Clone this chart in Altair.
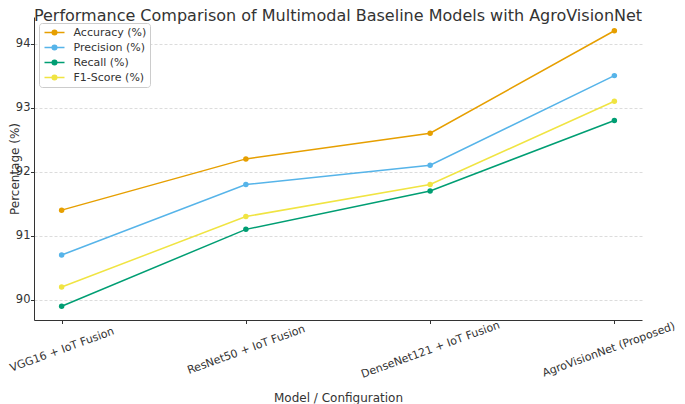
import altair as alt
import pandas as pd

models = ["VGG16 + IoT Fusion", "ResNet50 + IoT Fusion", "DenseNet121 + IoT Fusion", "AgroVisionNet (Proposed)"]
accuracy = [91.4, 92.2, 92.6, 94.2]
precision = [90.7, 91.8, 92.1, 93.5]
recall = [89.9, 91.1, 91.7, 92.8]
f1 = [90.2, 91.3, 91.8, 93.1]
metrics = ["Accuracy (%)", "Precision (%)", "Recall (%)", "F1-Score (%)"]
colors = ["#E69F00", "#56B4E9", "#009E73", "#F0E442"]
y_ticks = [90, 91, 92, 93, 94]

rows = []
for metric, vals in zip(metrics, [accuracy, precision, recall, f1]):
    for m, v in zip(models, vals):
        rows.append({"Model": m, "Metric": metric, "Value": v})
df = pd.DataFrame(rows)

FONT = "DejaVu Sans"
TXT = "#333333"

def ring(r):
    return f"M{-r},0A{r},{r} 0 1,1 {r},0A{r},{r} 0 1,1 {-r},0"

sym = "M-2,0L2,0" + ring(0.46) + ring(0.26) + ring(0.08)

x = alt.X(
    "Model:N", sort=models,
    scale=alt.Scale(type="point", padding=0.15),
    axis=alt.Axis(title="Model / Configuration", labelAngle=-20, labelAlign="center",
                  labelBaseline="middle", labelPadding=26, labelOverlap=False,
                  labelFontSize=11,
                  labelOffset={"condition": {"test": f"datum.value == '{models[-1]}'", "value": -6},
                               "value": 0},
                  labelBound=False, labelFlush=False, titleY=81, titleBaseline="alphabetic"),
)
y = alt.Y(
    "Value:Q",
    scale=alt.Scale(domain=[89.685, 94.415], nice=False, zero=False),
    axis=alt.Axis(title="Percentage (%)", values=y_ticks, labelPadding=0.5, labelFontSize=11.5,
                  titleX=-16, titleAlign="center", titleBaseline="alphabetic"),
)
color = alt.Color(
    "Metric:N", sort=metrics,
    scale=alt.Scale(domain=metrics, range=colors),
    legend=alt.Legend(title=None, orient="none", legendX=5, legendY=6,
                      symbolType=sym, symbolSize=100, symbolStrokeWidth=1.5,
                      symbolOffset=6, labelOffset=13, padding=3.5, rowPadding=3,
                      strokeColor="#cccccc", fillColor="white", cornerRadius=3,
                      labelFontSize=11, labelFont=FONT, labelColor=TXT),
)

base = alt.Chart(df)
lines = base.mark_line(strokeWidth=1.5).encode(x=x, y=y, color=color)
points = base.mark_point(filled=True, size=30, opacity=1).encode(x=x, y=y, color=color)

chart = (
    alt.layer(lines, points)
    .properties(
        width=608, height=303,
        title=alt.Title("Performance Comparison of Multimodal Baseline Models with AgroVisionNet",
                        fontSize=16, font=FONT, fontWeight="normal", color=TXT,
                        anchor="middle", baseline="alphabetic", offset=-20),
        padding={"left": 26, "top": 9, "right": 35, "bottom": 84},
        autosize=alt.AutoSizeParams(type="none"),
    )
    .configure_view(stroke=None)
    .configure_axis(
        domainColor=TXT, tickColor=TXT, tickSize=3.5, domainWidth=1, tickWidth=1,
        labelFontSize=12, titleFontSize=12, labelFont=FONT, titleFont=FONT,
        labelColor=TXT, titleColor=TXT, titleFontWeight="normal",
        gridColor="#d3d3d3", gridDash=[3, 2], gridWidth=0.8,
    )
)

chart.save("out.html", embed_options={"renderer": "svg", "actions": False})
